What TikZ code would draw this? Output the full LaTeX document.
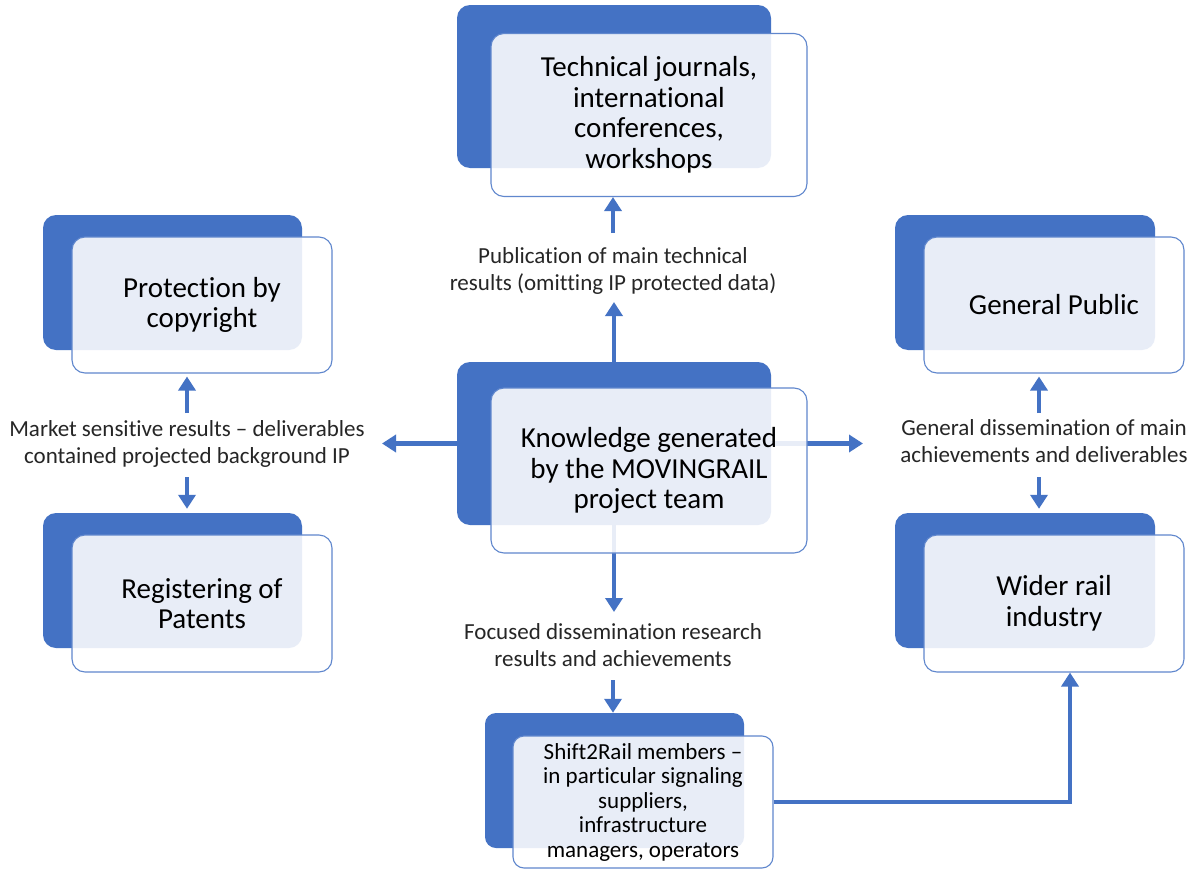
\documentclass[tikz,border=0pt]{standalone}
\usepackage{fontspec}
\setmainfont{Carlito}[Ligatures={NoCommon}]
\usetikzlibrary{arrows.meta}
\definecolor{acc}{HTML}{4472C4}
\definecolor{lblc}{HTML}{262626}
\pgfdeclarelayer{bottom}
\pgfdeclarelayer{bg}
\pgfsetlayers{bottom,bg,main}
\begin{document}
\begin{tikzpicture}[x=1pt,y=-1pt,
  backbox/.style={fill=acc, draw=none, rounded corners=13pt, inner sep=0pt},
  frontbox/.style={draw=acc!85!white, line width=1.1pt, fill=white, fill opacity=0.88, text opacity=1,
    rounded corners=13pt, inner sep=0pt, align=center, font=\fontsize{29}{30.5}\selectfont, text=black},
  smallfront/.style={frontbox, rounded corners=11pt, font=\fontsize{23}{24.5}\selectfont},
  lbl/.style={align=center, font=\fontsize{23}{27.5}\selectfont, text=lblc, inner sep=0pt},
  arr/.style={draw=acc, line width=4.5pt, -{Triangle[width=17pt,length=14pt]}}]
\begin{pgfonlayer}{bottom}
\fill[white] (0,0) rectangle (1192,870);
\end{pgfonlayer}
\useasboundingbox (0,0) rectangle (1192,870);

% boxes
\node[backbox, minimum width=314pt, minimum height=163pt] (tjB) at (614,86.5) {};
\node[frontbox, minimum width=316pt, minimum height=163pt] (tjF) at (649,115) {Technical journals,\\international\\conferences,\\workshops};

\node[backbox, minimum width=314pt, minimum height=163pt] (knB) at (614,443.5) {};
\node[frontbox, minimum width=316pt, minimum height=165pt] (knF) at (649,470.5) {Knowledge generated\\by the MOVINGRAIL\\project team};

\node[backbox, minimum width=259pt, minimum height=135pt] (pcB) at (172.5,282.5) {};
\node[frontbox, minimum width=260pt, minimum height=136pt] (pcF) at (202,305) {Protection by\\copyright};

\node[backbox, minimum width=259pt, minimum height=135pt] (rpB) at (172.5,580.5) {};
\node[frontbox, minimum width=260pt, minimum height=137pt] (rpF) at (202,603.5) {Registering of\\Patents};

\node[backbox, minimum width=260pt, minimum height=135pt] (gpB) at (1025,282.5) {};
\node[frontbox, minimum width=260pt, minimum height=136pt] (gpF) at (1054,305) {General Public};

\node[backbox, minimum width=260pt, minimum height=135pt] (wrB) at (1025,580.5) {};
\node[frontbox, minimum width=260pt, minimum height=137pt] (wrF) at (1054,603.5) {Wider rail\\industry};

\node[backbox, rounded corners=11pt, minimum width=259pt, minimum height=135pt] (s2B) at (614.5,780.5) {};
\node[smallfront, minimum width=260pt, minimum height=132pt] (s2F) at (643,802) {Shift2Rail members –\\in particular signaling\\suppliers,\\infrastructure\\managers, operators};

% labels
\node[lbl] (pub) at (613,271) {Publication of main technical\\results (omitting IP protected data)};
\node[lbl] (foc) at (613,645) {Focused dissemination research\\results and achievements};
\node[lbl] (mkt) at (187,444) {Market sensitive results – deliverables\\contained projected background IP};
\node[lbl] (gen) at (1044,441) {General dissemination of main\\achievements and deliverables};

% arrow end points
\coordinate (cUp) at (613,302);
\coordinate (cLeft) at (382,442);
\coordinate (cRight) at (863,442);
\coordinate (cDown) at (613,612);
\coordinate (pubOut) at (613,233);
\coordinate (focOut) at (613,680);
\coordinate (mktUp) at (187,413);
\coordinate (mktDown) at (187,477);
\coordinate (genUp) at (1039,413);
\coordinate (genDown) at (1039,477);

\begin{pgfonlayer}{bg}
\draw[arr] (knB.center) -- (knB.center |- cUp);
\draw[arr] (knB.center) -- (knB.center -| cLeft);
\draw[arr] (knB.center) -- (knB.center -| cRight);
\draw[arr] (knB.center) -- (knB.center |- cDown);
\end{pgfonlayer}
\draw[arr] (pubOut) -- (pubOut |- tjF.south);
\draw[arr] (focOut) -- (focOut |- s2B.north);
\draw[arr, shorten >=3pt] (mktUp) -- (mktUp |- pcF.south);
\draw[arr, shorten >=4pt] (mktDown) -- (mktDown |- rpB.north);
\draw[arr, shorten >=3pt] (genUp) -- (genUp |- gpF.south);
\draw[arr, shorten >=4pt] (genDown) -- (genDown |- wrB.north);
\draw[arr] (s2F.east) -| ([xshift=16pt]wrF.south);
\end{tikzpicture}
\end{document}
